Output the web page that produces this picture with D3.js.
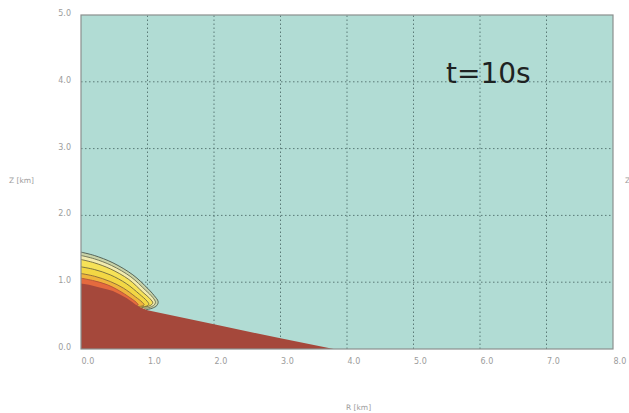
<!DOCTYPE html>
<html>
<head>
<meta charset="utf-8">
<script src="https://cdn.jsdelivr.net/npm/d3@7"></script>
<style>
  body { margin: 0; background: #fff; }
  .tick text { font-family: "DejaVu Sans", sans-serif; font-size: 8px; fill: #9c9c9c; }
  .axis-title { font-family: "DejaVu Sans", sans-serif; font-size: 7.5px; fill: #9c9c9c; }
</style>
</head>
<body>
<div id="chart"></div>
<script>
// axis ticks (km)
const xTicks = [0, 1, 2, 3, 4, 5, 6, 7, 8];
const yTicks = [0, 1, 2, 3, 4, 5];

// plume contour top edges, [R km, Z km], outermost first
const contour1 = [[0, 1.45], [0.2, 1.40], [0.48, 1.29], [0.78, 1.11], [1.0, 0.91], [1.1, 0.80], [1.16, 0.71], [1.14, 0.65], [1.07, 0.61], [0.98, 0.59]];
const contour2 = [[0, 1.40], [0.2, 1.35], [0.46, 1.25], [0.75, 1.08], [0.97, 0.88], [1.08, 0.77], [1.12, 0.70], [1.09, 0.65], [1.02, 0.62], [0.95, 0.61]];
const contour3 = [[0, 1.34], [0.2, 1.29], [0.44, 1.20], [0.72, 1.04], [0.93, 0.85], [1.04, 0.75], [1.08, 0.69], [1.04, 0.65], [0.97, 0.63], [0.91, 0.62]];
const contour4 = [[0, 1.23], [0.2, 1.19], [0.44, 1.11], [0.68, 0.98], [0.88, 0.82], [0.99, 0.72], [1.02, 0.67], [0.98, 0.64], [0.9, 0.63]];
const contour5 = [[0, 1.13], [0.2, 1.09], [0.44, 1.01], [0.64, 0.91], [0.82, 0.78], [0.92, 0.70], [0.95, 0.66], [0.9, 0.64], [0.85, 0.64]];
const contour6 = [[0, 1.06], [0.2, 1.02], [0.4, 0.96], [0.58, 0.87], [0.72, 0.78], [0.83, 0.70], [0.86, 0.66], [0.8, 0.65]];

// ground / dense layer top edge
const ground = [[0, 0.98], [0.12, 0.96], [0.25, 0.93], [0.4, 0.89], [0.48, 0.87], [0.58, 0.82], [0.69, 0.76], [0.76, 0.71], [0.83, 0.66], [0.9, 0.62], [1.0, 0.58], [2.0, 0.37], [3.0, 0.16], [3.8, 0.0]];

const layers = [
    {pts: contour1, fill: "#c9d3a8", stroke: "#4a574c"},
    {pts: contour2, fill: "#f2ebae", stroke: "#6b6e52"},
    {pts: contour3, fill: "#f6e258", stroke: "#6f6a40"},
    {pts: contour4, fill: "#f3d744", stroke: "#6f6a40"},
    {pts: contour5, fill: "#efb43c", stroke: "#8a6a3a"},
    {pts: contour6, fill: "#e56a3e", stroke: "#b0553a"}
];

const W = 629, H = 413;
const svg = d3.select("#chart").append("svg")
    .attr("width", W)
    .attr("height", H)
    .attr("xmlns", "http://www.w3.org/2000/svg");

const x = d3.scaleLinear().domain([0, 8]).range([81, 613]);
const y = d3.scaleLinear().domain([0, 5]).range([349, 15]);

svg.append("defs").append("clipPath").attr("id", "plot-clip")
    .append("rect")
    .attr("x", x(0)).attr("y", y(5))
    .attr("width", x(8) - x(0)).attr("height", y(0) - y(5));

// background
svg.append("rect")
    .attr("x", x(0)).attr("y", y(5))
    .attr("width", x(8) - x(0)).attr("height", y(0) - y(5))
    .attr("fill", "#b1dcd4");

const plot = svg.append("g").attr("clip-path", "url(#plot-clip)");

// grid
plot.append("g").selectAll("line")
    .data(xTicks.slice(1, -1))
    .join("line")
    .attr("x1", (d) => x(d)).attr("x2", (d) => x(d))
    .attr("y1", y(0)).attr("y2", y(5))
    .attr("stroke", "#5a7a77").attr("stroke-width", 1)
    .attr("stroke-dasharray", "1.5,2.5");

plot.append("g").selectAll("line")
    .data(yTicks.slice(1, -1))
    .join("line")
    .attr("x1", x(0)).attr("x2", x(8))
    .attr("y1", (d) => y(d)).attr("y2", (d) => y(d))
    .attr("stroke", "#5a7a77").attr("stroke-width", 1)
    .attr("stroke-dasharray", "1.5,2.5");

// plume contours
const edge = d3.line().x((d) => x(d[0])).y((d) => y(d[1])).curve(d3.curveCatmullRom);
layers.forEach((l) => {
    const last = l.pts[l.pts.length - 1];
    plot.append("path")
        .attr("d", edge(l.pts) + `L${x(last[0])},${y(0)}L${x(0)},${y(0)}Z`)
        .attr("fill", l.fill);
    plot.append("path")
        .attr("d", edge(l.pts))
        .attr("fill", "none")
        .attr("stroke", l.stroke)
        .attr("stroke-width", 0.9);
});

// ground
plot.append("path")
    .attr("d", d3.line().x((d) => x(d[0])).y((d) => y(d[1])).curve(d3.curveLinearClosed)(ground.concat([[0, 0]])))
    .attr("fill", "#a5483b");

// border
svg.append("rect")
    .attr("x", x(0)).attr("y", y(5))
    .attr("width", x(8) - x(0)).attr("height", y(0) - y(5))
    .attr("fill", "none")
    .attr("stroke", "#8a8f8e").attr("stroke-width", 1.2);

// axes
const xAxis = svg.append("g")
    .attr("transform", `translate(0,${y(0) + 13})`)
    .call(d3.axisBottom(x).tickValues(xTicks).tickFormat(d3.format(".1f")).tickSize(0).tickPadding(0));
xAxis.select(".domain").remove();
xAxis.selectAll("text").attr("text-anchor", "start").attr("dy", "0.3em");

const yAxis = svg.append("g")
    .attr("transform", `translate(71,0)`)
    .call(d3.axisLeft(y).tickValues(yTicks).tickFormat(d3.format(".1f")).tickSize(0).tickPadding(0));
yAxis.select(".domain").remove();
yAxis.selectAll("text").attr("dy", "0.05em");

svg.append("text").attr("class", "axis-title")
    .attr("x", 9).attr("y", 183).text("Z [km]");
svg.append("text").attr("class", "axis-title")
    .attr("x", 346).attr("y", 410).text("R [km]");
svg.append("text").attr("class", "axis-title")
    .attr("x", 625).attr("y", 183).text("Z");

// time label
svg.append("text")
    .attr("x", 446).attr("y", 83)
    .attr("font-family", "DejaVu Sans, sans-serif")
    .attr("font-size", 28)
    .attr("fill", "#1e2222")
    .text("t=10s");
</script>
</body>
</html>
